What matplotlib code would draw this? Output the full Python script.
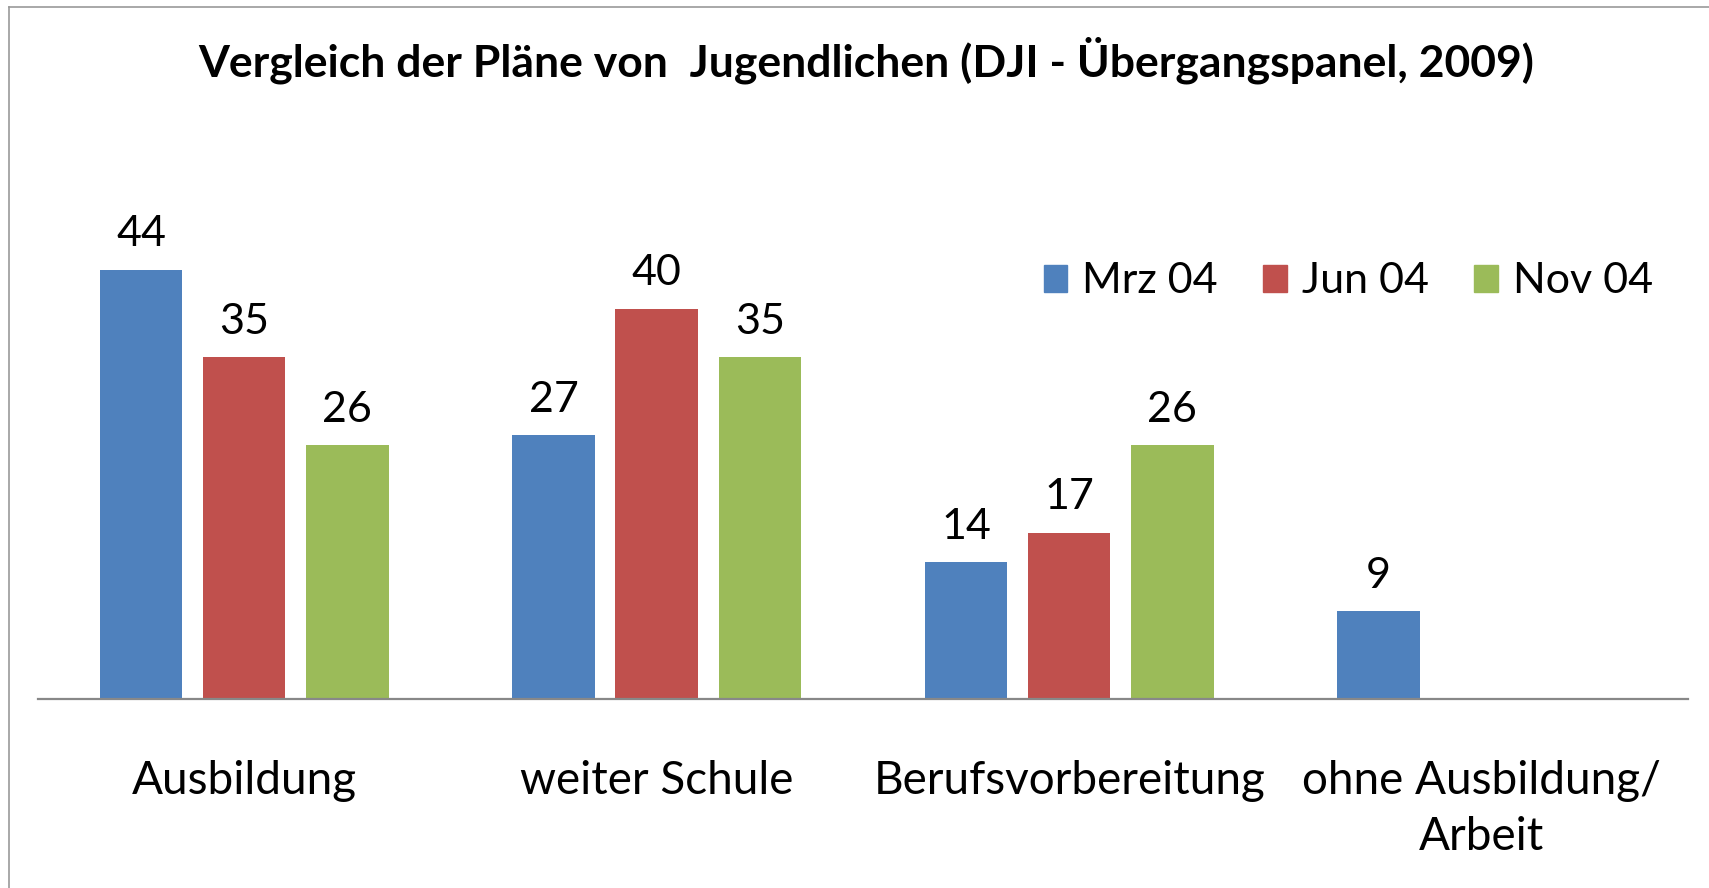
import matplotlib.pyplot as plt
from matplotlib.lines import Line2D
from matplotlib.patches import Patch
import numpy as np

plt.rcParams['font.family'] = ['Lato', 'DejaVu Sans']

categories = ['Ausbildung', 'weiter Schule', 'Berufsvorbereitung', 'ohne Ausbildung/\nArbeit']
series = ['Mrz 04', 'Jun 04', 'Nov 04']
mrz = [44, 27, 14, 9]
jun = [35, 40, 17, None]
nov = [26, 35, 26, None]
colors = ['#4F81BD', '#C0504D', '#9BBB59']

fig = plt.figure(figsize=(17.09, 8.88), dpi=100)
ax = fig.add_axes([0.0222, 0.2128, 0.9655, 0.5496])

x = np.arange(len(categories))
width = 0.2
step = 0.25
for i, (vals, col) in enumerate(zip([mrz, jun, nov], colors)):
    for xi, v in zip(x, vals):
        if v is None:
            continue
        pos = xi + (i - 1) * step
        ax.bar(pos, v, width, color=col)
        ax.annotate(str(v), (pos, v), xytext=(0, 12), textcoords='offset points',
                    ha='center', va='bottom', fontsize=31)

ax.set_xlim(-0.5, 3.5)
ax.set_ylim(0, 50)
ax.set_yticks([])
ax.set_xticks(x)
ax.set_xticklabels(categories, fontsize=33, linespacing=1.42, va='top')
ax.tick_params(axis='x', length=0, pad=44)
for s in ['top', 'right', 'left']:
    ax.spines[s].set_visible(False)
ax.spines['bottom'].set_color('#888888')
ax.spines['bottom'].set_linewidth(1.6)

handles = [Patch(color=c) for c in colors]
fig.legend(handles, series, loc='center', bbox_to_anchor=(0.789, 0.683), ncol=3,
           frameon=False, fontsize=31, handlelength=0.55, handleheight=0.6,
           handletextpad=0.35, columnspacing=1.05)

fig.suptitle('Vergleich der Pläne von  Jugendlichen (DJI - Übergangspanel, 2009)',
             x=0.507, y=0.932, va='center', fontsize=32, fontweight='bold')

# chart border (right/bottom edges cut off in the original)
fig.add_artist(Line2D([9 / 1709, 9 / 1709], [0, 1 - 7 / 888], color='#999999', lw=1.2))
fig.add_artist(Line2D([9 / 1709, 1], [1 - 7 / 888, 1 - 7 / 888], color='#999999', lw=1.2))

fig.savefig('out.png', dpi=100)
